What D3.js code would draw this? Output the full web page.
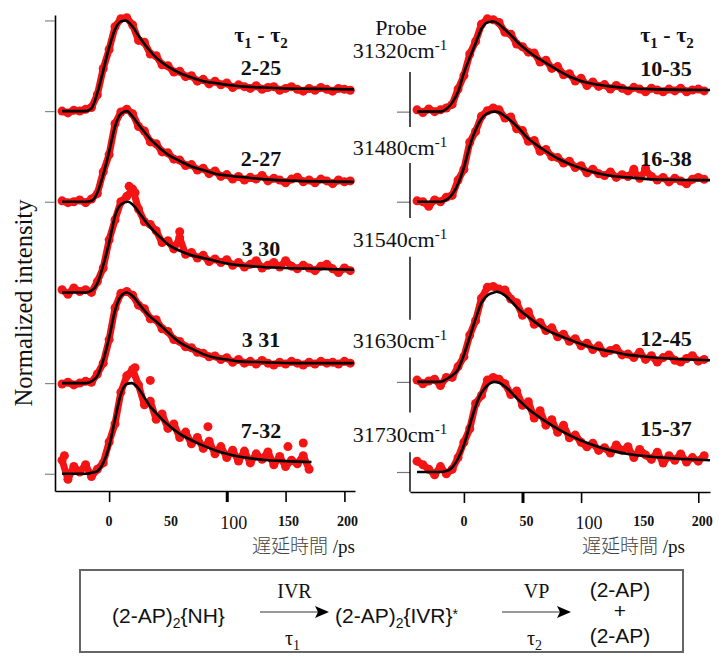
<!DOCTYPE html>
<html>
<head>
<meta charset="utf-8">
<script src="https://cdn.jsdelivr.net/npm/d3@7"></script>
<style>
  body { margin: 0; background: #fff; }
  svg text { font-family: "Liberation Serif", "Times New Roman", serif; fill: #111; }
</style>
</head>
<body>
<script>
// delay times (ps) of the measured points, shared by every trace
var delayTimes = [-40, -35, -30, -25, -20, -15, -10, -5, 0, 5, 10, 15, 20, 25, 30, 35, 40, 45, 50, 55,
  60, 65, 70, 75, 80, 85, 90, 95, 100, 105, 110, 115, 120, 125, 130, 135, 140, 145, 150, 155,
  160, 165, 170, 175, 180, 185, 190, 195, 200, 205];

var probeLabels = ["31320", "31480", "31540", "31630", "31730"];
var leftLifetimes = ["2-25", "2-27", "3 30", "3 31", "7-32"];
var rightLifetimes = ["10-35", "16-38", "", "12-45", "15-37"];
var traceOffsets = [4, 3, 2, 1, 0];

var leftTickOffsets = [0, 1, 3, 4, 5];
var rightTickOffsets = [0, 1, 3, 4];
var rightAxisSpans = [[-0.22, 0.22], [0.66, 1.27], [1.69, 2.39], [2.82, 3.43], [3.83, 4.44]];
var leftXTicks = [0, 100, 150, 200];
var rightXTicks = [0, 50, 100, 200];
var xTickLabels = [0, 50, 100, 150, 200];

// measured (red) points, normalized intensity
var l1Data = [0.00,-0.02,0.01,0.00,0.02,0.04,0.18,0.47,0.68,0.93,1.02,1.03,0.95,0.78,0.76,0.63,0.61,0.51,0.50,0.43,0.44,0.38,0.39,0.33,0.35,0.30,0.33,0.29,0.31,0.26,0.29,0.27,0.25,0.28,0.24,0.26,0.27,0.23,0.25,0.27,0.24,0.22,0.25,0.23,0.26,0.24,0.22,0.25,0.24,0.23];
var l2Data = [0.01,-0.01,0.00,0.02,-0.01,0.03,0.09,0.33,0.52,0.86,0.99,1.02,0.97,0.83,0.78,0.66,0.64,0.55,0.54,0.47,0.46,0.40,0.41,0.35,0.37,0.31,0.34,0.28,0.30,0.25,0.28,0.24,0.27,0.25,0.29,0.23,0.26,0.24,0.21,0.25,0.27,0.22,0.24,0.21,0.25,0.23,0.20,0.24,0.22,0.23];
var l3Data = [0.03,-0.02,0.05,0.01,0.03,0.00,0.12,0.27,0.58,0.80,1.00,1.06,1.14,0.92,0.78,0.75,0.68,0.55,0.57,0.48,0.60,0.42,0.44,0.38,0.41,0.34,0.37,0.33,0.36,0.30,0.33,0.28,0.31,0.35,0.27,0.30,0.33,0.28,0.35,0.29,0.26,0.30,0.27,0.24,0.29,0.31,0.26,0.22,0.27,0.24];
var l4Data = [-0.01,0.01,-0.02,0.00,0.02,0.01,0.10,0.22,0.48,0.83,0.99,1.01,0.97,0.86,0.82,0.71,0.70,0.60,0.57,0.48,0.46,0.40,0.39,0.34,0.33,0.29,0.30,0.26,0.28,0.23,0.26,0.22,0.24,0.21,0.25,0.22,0.20,0.23,0.21,0.24,0.22,0.20,0.23,0.21,0.24,0.22,0.23,0.21,0.24,0.22];
var l5Data = [0.15,-0.06,0.08,0.02,0.10,-0.03,0.05,0.12,0.35,0.55,0.90,1.08,1.15,0.98,0.76,0.80,0.60,0.66,0.50,0.55,0.40,0.46,0.33,0.40,0.28,0.36,0.22,0.30,0.18,0.26,0.14,0.25,0.12,0.22,0.16,0.24,0.10,0.19,0.08,0.15,0.11,0.20,0.05];
var r1Data = [0.02,-0.01,0.03,0.00,0.02,0.04,0.08,0.25,0.40,0.64,0.78,0.97,1.03,1.02,0.99,0.88,0.86,0.75,0.72,0.66,0.65,0.55,0.57,0.48,0.50,0.41,0.42,0.34,0.37,0.29,0.33,0.28,0.30,0.25,0.29,0.26,0.23,0.27,0.25,0.22,0.26,0.24,0.22,0.25,0.23,0.26,0.22,0.24,0.25,0.23];
var r2Data = [0.01,0.00,-0.05,0.02,0.00,0.05,0.07,0.24,0.36,0.66,0.78,0.95,1.01,1.04,1.02,0.93,0.94,0.81,0.79,0.67,0.68,0.56,0.58,0.50,0.49,0.43,0.45,0.38,0.40,0.32,0.36,0.31,0.29,0.33,0.27,0.30,0.28,0.34,0.26,0.35,0.28,0.24,0.27,0.22,0.26,0.23,0.20,0.25,0.27,0.25];
var r4Data = [0.02,-0.02,0.01,0.03,-0.04,0.05,0.05,0.17,0.28,0.52,0.68,0.93,1.05,1.06,1.03,1.02,0.92,0.88,0.74,0.78,0.64,0.66,0.57,0.60,0.50,0.53,0.45,0.48,0.40,0.43,0.36,0.40,0.32,0.35,0.37,0.30,0.31,0.27,0.33,0.25,0.29,0.22,0.27,0.30,0.24,0.22,0.26,0.29,0.23,0.25];
var r5Data = [0.12,0.08,0.03,-0.03,0.06,-0.02,0.03,0.16,0.33,0.48,0.76,0.85,1.02,1.05,1.03,0.98,0.86,0.90,0.74,0.78,0.60,0.68,0.52,0.58,0.44,0.52,0.38,0.41,0.33,0.28,0.32,0.24,0.27,0.21,0.30,0.24,0.28,0.16,0.25,0.19,0.14,0.22,0.10,0.18,0.13,0.20,0.11,0.16,0.12,0.18];

// stray points off the main band [t, value]
var l3Extra = [[17, 1.17], [22, 1.10], [60, 0.67]];
var l5Extra = [[-38, 0.20], [22, 1.17], [35, 1.03], [84, 0.52], [152, 0.30], [165, 0.34]];
var r2Extra = [[145, 0.36], [155, 0.37]];

// fitted curves (black) [t, value]
var l1Fit = [[-40,0],[-20,0],[-15,0.03],[-10,0.2],[-5,0.45],[0,0.7],[5,0.9],[10,0.99],[14,1.0],[20,0.93],[25,0.83],[30,0.74],[35,0.66],[40,0.59],[50,0.49],[60,0.42],[70,0.37],[80,0.33],[90,0.31],[100,0.29],[115,0.27],[130,0.26],[150,0.25],[175,0.245],[208,0.24]];
var l2Fit = [[-40,0],[-20,0],[-15,0.01],[-10,0.1],[-5,0.3],[0,0.55],[5,0.83],[10,0.97],[15,1.0],[20,0.94],[25,0.85],[30,0.77],[35,0.69],[40,0.63],[45,0.57],[50,0.52],[60,0.45],[70,0.39],[80,0.35],[90,0.31],[100,0.29],[115,0.27],[130,0.25],[160,0.23],[208,0.22]];
var l3Fit = [[-40,0],[-20,0],[-15,0.02],[-10,0.1],[-5,0.3],[0,0.55],[5,0.84],[10,0.97],[16,1.0],[20,0.97],[25,0.89],[30,0.8],[35,0.72],[40,0.65],[45,0.59],[50,0.53],[60,0.46],[70,0.41],[80,0.38],[90,0.35],[100,0.32],[120,0.29],[150,0.27],[180,0.26],[208,0.25]];
var l4Fit = [[-40,0],[-20,0],[-15,0.02],[-10,0.08],[-5,0.25],[0,0.5],[5,0.8],[10,0.96],[15,1.0],[20,0.96],[25,0.88],[30,0.8],[35,0.73],[40,0.68],[45,0.62],[50,0.56],[55,0.5],[60,0.45],[70,0.38],[80,0.32],[90,0.28],[100,0.26],[110,0.24],[130,0.23],[160,0.22],[208,0.22]];
var l5Fit = [[-40,0],[-20,0],[-15,0.01],[-10,0.03],[-5,0.12],[0,0.3],[5,0.6],[10,0.88],[15,0.99],[19,1.0],[25,0.94],[30,0.84],[35,0.74],[40,0.67],[45,0.6],[50,0.54],[60,0.44],[70,0.37],[80,0.31],[90,0.26],[100,0.22],[110,0.19],[120,0.17],[135,0.15],[150,0.14],[172,0.13]];
var r1Fit = [[-40,0],[-20,0],[-15,0.03],[-10,0.1],[-5,0.22],[0,0.43],[5,0.6],[10,0.76],[15,0.92],[20,0.99],[25,1.0],[30,0.97],[35,0.91],[40,0.85],[45,0.78],[50,0.72],[60,0.62],[70,0.54],[80,0.46],[90,0.39],[100,0.34],[110,0.31],[125,0.28],[140,0.26],[160,0.25],[210,0.24]];
var r2Fit = [[-40,0],[-20,0],[-15,0.02],[-10,0.08],[-5,0.2],[0,0.38],[5,0.62],[10,0.8],[15,0.92],[20,0.98],[26,1.0],[30,0.99],[35,0.95],[40,0.9],[45,0.84],[50,0.77],[55,0.7],[60,0.65],[70,0.56],[80,0.48],[90,0.42],[100,0.37],[110,0.33],[120,0.3],[140,0.27],[160,0.25],[210,0.24]];
var r4Fit = [[-40,0],[-20,0],[-15,0.03],[-10,0.07],[-5,0.14],[0,0.3],[5,0.5],[10,0.7],[15,0.88],[20,0.96],[25,0.99],[28,1.0],[35,0.96],[40,0.9],[45,0.83],[50,0.77],[55,0.72],[60,0.67],[70,0.58],[80,0.52],[90,0.47],[100,0.42],[110,0.38],[125,0.34],[140,0.3],[155,0.28],[175,0.26],[210,0.24]];
var r5Fit = [[-40,0],[-20,0],[-15,0.01],[-10,0.05],[-5,0.15],[0,0.3],[5,0.52],[10,0.73],[15,0.88],[20,0.96],[26,1.0],[30,0.99],[35,0.95],[40,0.89],[45,0.82],[50,0.76],[55,0.7],[60,0.65],[70,0.56],[80,0.48],[90,0.41],[100,0.35],[110,0.3],[125,0.24],[140,0.2],[160,0.17],[180,0.15],[210,0.13]];

var leftTraces = [
  { data: l1Data, fit: l1Fit, extra: [] },
  { data: l2Data, fit: l2Fit, extra: [] },
  { data: l3Data, fit: l3Fit, extra: l3Extra },
  { data: l4Data, fit: l4Fit, extra: [] },
  { data: l5Data, fit: l5Fit, extra: l5Extra }
];
var rightTraces = [
  { data: r1Data, fit: r1Fit, extra: [] },
  { data: r2Data, fit: r2Fit, extra: r2Extra },
  null,
  { data: r4Data, fit: r4Fit, extra: [] },
  { data: r5Data, fit: r5Fit, extra: [] }
];

var svgWidth = 719;
var svgHeight = 656;
var red = "#f41414";

var svg = d3.select("body").append("svg")
  .attr("width", svgWidth)
  .attr("height", svgHeight);

// scales for the two panels
var xLeft = d3.scaleLinear().domain([-46, 209]).range([55, 355]);
var yLeft = d3.scaleLinear().domain([-0.19, 5.06]).range([491, 15]);
var xRight = d3.scaleLinear().domain([-46, 210]).range([410, 710]);
var yRight = d3.scaleLinear().domain([-0.222, 4.44]).range([492, 72]);

function styleAxis(g, domainWidth, tickColor) {
  g.select(".domain").attr("stroke", "#000").attr("stroke-width", domainWidth);
  g.selectAll(".tick line").attr("stroke", tickColor).attr("stroke-width", 1.2);
}

// left panel axes
var leftY = svg.append("g")
  .attr("transform", "translate(55,0)")
  .call(d3.axisLeft(yLeft).tickValues(leftTickOffsets).tickSize(10).tickSizeOuter(0).tickFormat(""));
styleAxis(leftY, 1.6, "#888");

var leftX = svg.append("g")
  .attr("transform", "translate(0,491)")
  .call(d3.axisBottom(xLeft).tickValues(leftXTicks).tickSize(11).tickSizeOuter(0).tickFormat(""));
styleAxis(leftX, 1.6, "#000");
leftX.selectAll(".tick line").attr("stroke-width", d => d === 100 ? 3 : 1.6);

// right panel axes (broken vertical axis)
var rightY = svg.append("g")
  .attr("transform", "translate(410,0)")
  .call(d3.axisLeft(yRight).tickValues(rightTickOffsets).tickSize(13).tickSizeOuter(0).tickFormat(""));
rightY.select(".domain").remove();
rightY.selectAll(".tick line").attr("stroke", "#777").attr("stroke-width", 1.2);
rightY.selectAll(".span")
  .data(rightAxisSpans)
  .enter()
  .append("line")
  .attr("x1", 0).attr("x2", 0)
  .attr("y1", d => yRight(d[0]))
  .attr("y2", d => yRight(d[1]))
  .attr("stroke", "#000")
  .attr("stroke-width", 1.4);

var rightX = svg.append("g")
  .attr("transform", "translate(0,492)")
  .call(d3.axisBottom(xRight).tickValues(rightXTicks).tickSize(11).tickSizeOuter(0).tickFormat(""));
styleAxis(rightX, 1.6, "#000");
rightX.selectAll(".tick line").attr("stroke-width", d => d === 50 ? 3 : 1.6);

// x tick labels
function tickLabels(x, nudge) {
  svg.append("g").selectAll("text")
    .data(xTickLabels)
    .enter()
    .append("text")
    .attr("x", d => x(d) + (d === 100 ? nudge + 4 : d === 0 ? 0 : nudge))
    .attr("y", d => d === 100 ? 529 : 526)
    .attr("text-anchor", "middle")
    .attr("font-size", d => d === 100 ? 18 : 14)
    .attr("font-weight", d => d === 100 ? "normal" : "bold")
    .text(d => d);
}
tickLabels(xLeft, 3);
tickLabels(xRight, 4);

// axis titles
function delayTitle(xStart) {
  var t = svg.append("text").attr("x", xStart).attr("y", 553).attr("font-size", 19);
  t.append("tspan")
    .style("font-family", "'Noto Sans CJK JP', sans-serif")
    .style("fill", "#444")
    .attr("font-weight", 300)
    .text("遅延時間");
  t.append("tspan").text(" /ps");
}
delayTitle(252);
delayTitle(582);

svg.append("text")
  .attr("transform", "translate(32,303) rotate(-90)")
  .attr("text-anchor", "middle")
  .attr("font-size", 25)
  .attr("textLength", 207)
  .attr("lengthAdjust", "spacingAndGlyphs")
  .text("Normalized intensity");

// traces
function drawTrace(x, y, trace, offset) {
  var pts = trace.data.map((v, i) => [delayTimes[i], v]);
  var g = svg.append("g");

  var dataLine = d3.line()
    .x(d => x(d[0]))
    .y(d => y(offset + d[1]));

  g.append("path")
    .attr("d", dataLine(pts))
    .attr("fill", "none")
    .attr("stroke", red)
    .attr("stroke-width", 7)
    .attr("stroke-linejoin", "round")
    .attr("stroke-linecap", "round");

  g.selectAll("circle")
    .data(pts.concat(trace.extra))
    .enter()
    .append("circle")
    .attr("cx", d => x(d[0]))
    .attr("cy", d => y(offset + d[1]))
    .attr("r", 4.5)
    .attr("fill", red);

  var fitLine = d3.line()
    .x(d => x(d[0]))
    .y(d => y(offset + d[1]))
    .curve(d3.curveMonotoneX);

  g.append("path")
    .attr("d", fitLine(trace.fit))
    .attr("fill", "none")
    .attr("stroke", "#000")
    .attr("stroke-width", 2.6);
}

leftTraces.forEach((tr, i) => drawTrace(xLeft, yLeft, tr, traceOffsets[i]));
rightTraces.forEach((tr, i) => { if (tr) drawTrace(xRight, yRight, tr, traceOffsets[i]); });

// lifetime labels
function tauHeader(cx) {
  var t = svg.append("text")
    .attr("x", cx).attr("y", 42)
    .attr("text-anchor", "middle")
    .attr("font-size", 22)
    .attr("font-weight", "bold");
  t.append("tspan").text("τ");
  t.append("tspan").attr("font-size", 15).attr("dy", 6).text("1");
  t.append("tspan").attr("dy", -6).text(" - ");
  t.append("tspan").text("τ");
  t.append("tspan").attr("font-size", 15).attr("dy", 6).text("2");
}
tauHeader(261);
tauHeader(667);

svg.append("g").selectAll("text")
  .data(leftLifetimes)
  .enter()
  .append("text")
  .attr("x", 261)
  .attr("y", (d, i) => yLeft(traceOffsets[i] + 0.4))
  .attr("text-anchor", "middle")
  .attr("font-size", 22)
  .attr("font-weight", "bold")
  .text(d => d);

svg.append("g").selectAll("text")
  .data(rightLifetimes)
  .enter()
  .append("text")
  .attr("x", 666)
  .attr("y", (d, i) => yRight(traceOffsets[i] + 0.4))
  .attr("text-anchor", "middle")
  .attr("font-size", 22)
  .attr("font-weight", "bold")
  .text(d => d);

// probe wavenumbers in the middle
svg.append("text")
  .attr("x", 401).attr("y", 35)
  .attr("text-anchor", "middle")
  .attr("font-size", 22)
  .text("Probe");

var probeY = [58, 155, 247, 348, 442];
probeLabels.forEach(function(p, i) {
  var t = svg.append("text")
    .attr("x", 400).attr("y", probeY[i])
    .attr("text-anchor", "middle")
    .attr("font-size", 22);
  t.append("tspan").text(p + "cm");
  t.append("tspan").attr("font-size", 15).attr("dy", -8).text("-1");
});

// reaction scheme box
svg.append("rect")
  .attr("x", 80).attr("y", 570)
  .attr("width", 603).attr("height", 82)
  .attr("fill", "none")
  .attr("stroke", "#666")
  .attr("stroke-width", 2);

// parts: [text, dy, small]
function species(xPos, yPos, anchor, parts) {
  var t = svg.append("text")
    .attr("x", xPos).attr("y", yPos)
    .attr("text-anchor", anchor)
    .attr("font-size", 21)
    .style("font-family", "'Liberation Sans', Arial, sans-serif");
  parts.forEach(function(p) {
    var s = t.append("tspan").text(p[0]);
    if (p[1]) s.attr("dy", p[1]);
    if (p[2]) s.attr("font-size", 14);
  });
  return t;
}
species(112, 623, "start", [["(2-AP)"], ["2", 5, true], ["{NH}", -5]]);
species(335, 623, "start", [["(2-AP)"], ["2", 5, true], ["{IVR}", -5], ["*", -4, true]]);
species(620, 597, "middle", [["(2-AP)"]]);
species(620, 618, "middle", [["+"]]);
species(620, 643, "middle", [["(2-AP)"]]);

function arrow(x1, x2, label, sub) {
  svg.append("line")
    .attr("x1", x1).attr("x2", x2 - 10)
    .attr("y1", 612).attr("y2", 612)
    .attr("stroke", "#777").attr("stroke-width", 1.3);
  svg.append("path")
    .attr("d", "M" + (x2 - 14) + ",606L" + x2 + ",612L" + (x2 - 14) + ",618L" + (x2 - 11) + ",612Z")
    .attr("fill", "#000");
  var cx = (x1 + x2) / 2;
  svg.append("text")
    .attr("x", cx).attr("y", 598)
    .attr("text-anchor", "middle")
    .attr("font-size", 20)
    .text(label);
  var t = svg.append("text")
    .attr("x", cx - 2).attr("y", 645)
    .attr("text-anchor", "middle")
    .attr("font-size", 20);
  t.append("tspan").text("τ");
  t.append("tspan").attr("font-size", 14).attr("dy", 5).text(sub);
}
arrow(260, 329, "IVR", "1");
arrow(502, 571, "VP", "2");
</script>
</body>
</html>
